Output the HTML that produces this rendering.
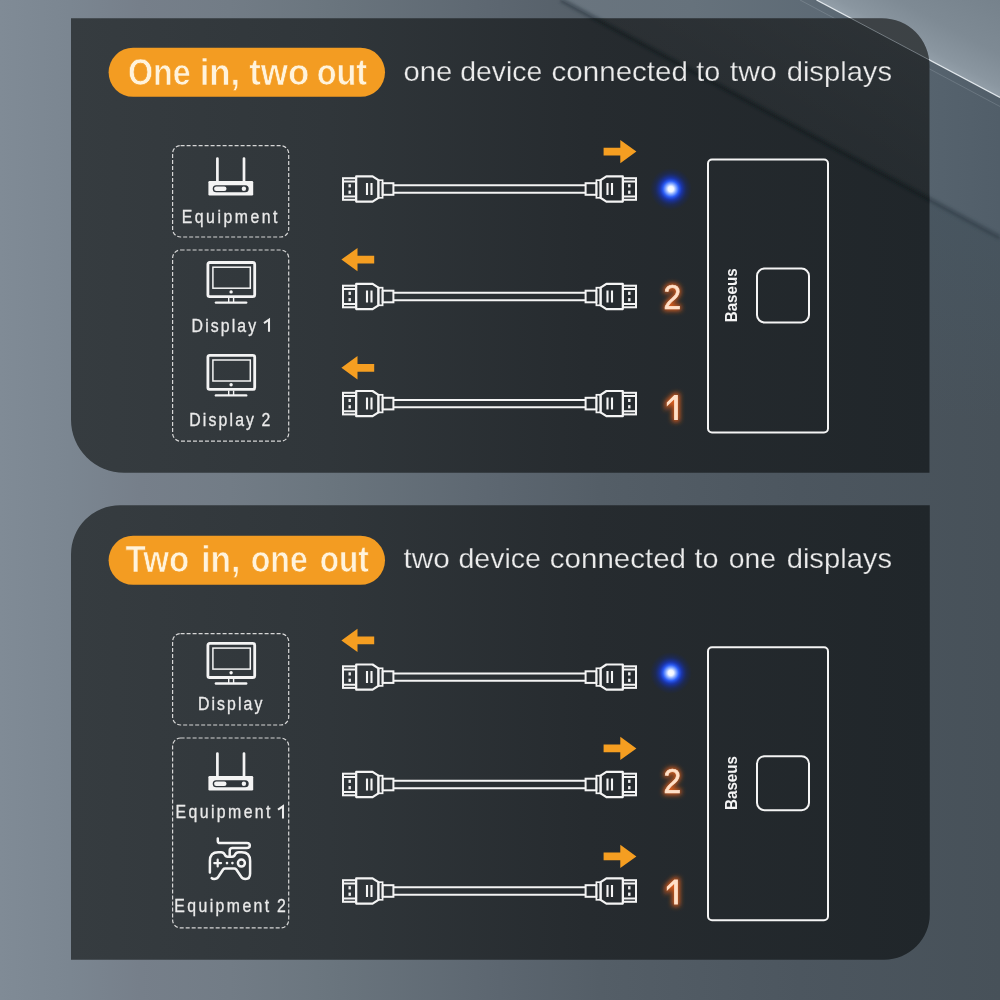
<!DOCTYPE html>
<html><head><meta charset="utf-8"><title>Connection modes</title>
<style>
html,body{margin:0;padding:0;background:#6f7b87;}
body{width:1000px;height:1000px;overflow:hidden;}
svg{display:block;font-family:"Liberation Sans",sans-serif;}
</style></head><body>
<svg width="1000" height="1000" viewBox="0 0 1000 1000">

<defs>
  <linearGradient id="bg" x1="0" y1="0" x2="1" y2="0">
    <stop offset="0" stop-color="#808b96"/>
    <stop offset="0.07" stop-color="#7b8691"/>
    <stop offset="0.14" stop-color="#767f8a"/>
    <stop offset="0.23" stop-color="#727c86"/>
    <stop offset="0.33" stop-color="#6a757e"/>
    <stop offset="0.5" stop-color="#5c6670"/>
    <stop offset="0.6" stop-color="#545e67"/>
    <stop offset="0.8" stop-color="#4c565f"/>
    <stop offset="1" stop-color="#475159"/>
  </linearGradient>
  <linearGradient id="band" gradientUnits="userSpaceOnUse" x1="561" y1="0" x2="1000" y2="0">
    <stop offset="0" stop-color="#6a757f"/>
    <stop offset="0.3" stop-color="#66727c"/>
    <stop offset="0.6" stop-color="#5d6a75"/>
    <stop offset="0.9" stop-color="#54616c"/>
    <stop offset="1" stop-color="#515e69"/>
  </linearGradient>
  <linearGradient id="bandp" gradientUnits="userSpaceOnUse" x1="908" y1="49" x2="851.1" y2="155.4">
    <stop offset="0" stop-color="#fff" stop-opacity="0.05"/>
    <stop offset="1" stop-color="#fff" stop-opacity="0.025"/>
  </linearGradient>
  <linearGradient id="tri" gradientUnits="userSpaceOnUse" x1="908" y1="49" x2="948.6" y2="-26.8">
    <stop offset="0" stop-color="#939fa9"/>
    <stop offset="0.12" stop-color="#8a96a0"/>
    <stop offset="0.45" stop-color="#7e8a94"/>
    <stop offset="1" stop-color="#76828c"/>
  </linearGradient>
  <linearGradient id="below" gradientUnits="userSpaceOnUse" x1="0" y1="130" x2="0" y2="420">
    <stop offset="0" stop-color="#486070" stop-opacity="0.35"/>
    <stop offset="1" stop-color="#486070" stop-opacity="0"/>
  </linearGradient>
  <filter id="noop" filterUnits="userSpaceOnUse" x="0" y="0" width="1000" height="1000"><feOffset dx="0" dy="0"/></filter>
  <filter id="soft" x="-5%" y="-5%" width="110%" height="110%"><feGaussianBlur stdDeviation="1.6"/></filter>
  <linearGradient id="pg" x1="72" y1="0" x2="930" y2="0" gradientUnits="userSpaceOnUse">
    <stop offset="0" stop-color="#363c40"/>
    <stop offset="0.3" stop-color="#30363a"/>
    <stop offset="0.6" stop-color="#262b2f"/>
    <stop offset="1" stop-color="#20262a"/>
  </linearGradient>
  <radialGradient id="led">
    <stop offset="0" stop-color="#ffffff"/>
    <stop offset="0.13" stop-color="#f0f5ff"/>
    <stop offset="0.26" stop-color="#7fa4ff"/>
    <stop offset="0.38" stop-color="#2b5cf5"/>
    <stop offset="0.52" stop-color="#1838c8" stop-opacity="0.8"/>
    <stop offset="0.75" stop-color="#102a98" stop-opacity="0.32"/>
    <stop offset="1" stop-color="#0a2080" stop-opacity="0"/>
  </radialGradient>
  <filter id="glow" x="-60%" y="-40%" width="220%" height="180%">
    <feGaussianBlur stdDeviation="2.5"/>
  </filter>
  <clipPath id="cpTop"><path d="M71 18.2 H882 A47.5 47.5 0 0 1 929.5 65.7 V472.8 H124 A53 53 0 0 1 71 419.8 Z"/></clipPath>
  <clipPath id="cpBot"><path d="M120 505.2 H929.8 V914.2 A45.5 45.5 0 0 1 884.3 959.7 H71 V554.2 A49 49 0 0 1 120 505.2 Z"/></clipPath>

  <!-- HDMI connector, tip at left, origin = tip-left / centre y -->
  <g id="conn" fill="none" stroke="#f4f4f4">
    <rect x="1" y="-10.8" width="13" height="21.6" stroke-width="2"/>
    <path d="M1 -7.6 H13.5 M1 7.6 H13.5" stroke-width="2"/>
    <rect x="6.5" y="-4.8" width="2.4" height="3.2" fill="#f4f4f4" stroke="none"/>
    <rect x="6.5" y="1.6" width="2.4" height="3.2" fill="#f4f4f4" stroke="none"/>
    <path d="M14.2 -12.6 H30.6 L36.4 -8.8 V8.8 L30.6 12.6 H14.2 Z" stroke-width="2.2" stroke-linejoin="round"/>
    <path d="M25 -6 V6 M29.5 -6 V6" stroke-width="2.1"/>
    <rect x="36.4" y="-8.8" width="4.2" height="17.6" stroke-width="1.7"/>
    <rect x="40.6" y="-5.8" width="10.8" height="11.6" stroke-width="2"/>
  </g>
  <g id="cable" fill="none" stroke="#f4f4f4" stroke-width="2">
    <use href="#conn" x="342"/>
    <g transform="translate(979 0) scale(-1 1)"><use href="#conn" x="342"/></g>
    <path d="M394 -3.7 H585 M394 3.7 H585"/>
  </g>
  <!-- arrow pointing right, centred at 0,0 ; 32 wide 23 tall -->
  <path id="arrR" d="M-16.4 -3.9 H0.3 V-11.7 L16.4 0 L0.3 11.7 V3.9 H-16.4 Z" fill="#f59e21"/>
  <!-- monitor, origin at centre x, top y -->
  <g id="mon" fill="none" stroke="#f4f4f4">
    <rect x="-23.4" y="1.3" width="46.8" height="34.1" rx="1.8" stroke-width="2.8"/>
    <rect x="-18.4" y="6" width="37.4" height="21" stroke-width="1.5"/>
    <circle cx="-0.2" cy="30.7" r="1.7" fill="#f4f4f4" stroke="none"/>
    <path d="M-2.6 36.5 V41 M2.3 36.5 V41" stroke-width="1.4"/>
    <path d="M-15.4 41.4 H14.9" stroke-width="2.4" stroke-linecap="round"/>
  </g>
  <!-- router, origin centre x, top of antenna y -->
  <g id="rtr" fill="none" stroke="#f4f4f4">
    <path d="M-13.3 1.7 V25 M13.3 1.7 V25" stroke-width="2.7" stroke-linecap="round"/>
    <rect x="-22.3" y="24.2" width="44.8" height="14.4" rx="1.2" fill="#f4f4f4" stroke="none"/>
    <rect x="-18" y="28.4" width="36" height="7" rx="3.5" fill="#2f353a" stroke="none"/>
    <rect x="-16.6" y="29.7" width="12.4" height="4.4" rx="2.2" fill="#f4f4f4" stroke="none"/>
    <circle cx="13.2" cy="31.9" r="2.2" fill="#f4f4f4" stroke="none"/>
  </g>
  <!-- gamepad, origin centre x (229.7), top y (837.8) -->
  <g id="pad" fill="none" stroke="#f4f4f4" stroke-width="2.5" stroke-linecap="round" stroke-linejoin="round">
    <path d="M-11.9 0.6 V3 Q-11.9 5.1 -9.6 5.1 H17.1 Q20.1 5.1 20.1 7.7 Q20.1 10.2 17.1 10.2 H2.7 Q0 10.2 0 12.5 V17.8"/>
    <path d="M-19.8 34.5 V23 Q-19.8 14.3 -11.5 14.3 H-8.6 Q-6 14.3 -5 16.6 Q-4.2 18.8 -2 18.8 H2.4 Q4.6 18.8 5.4 16.6 Q6.4 14.3 9 14.3 H12 Q20.4 14.3 20.4 23 V35.5 Q20.4 41 15.8 41 Q12.8 41 11.2 38.4 L6.6 31.6 Q5.8 30.6 4.5 30.6 H-4.5 Q-5.8 30.6 -6.6 31.6 L-11 38.4 Q-12.6 41 -15.6 41 Q-17.2 41 -18 40.2"/>
    <path d="M-12 21.8 V28.6 M-15.4 25.2 H-8.6" stroke-width="2.2"/>
    <circle cx="-2.7" cy="25.2" r="1.3" fill="#f4f4f4" stroke="none"/>
    <circle cx="2.7" cy="25.2" r="1.3" fill="#f4f4f4" stroke="none"/>
    <circle cx="11.7" cy="25.2" r="3.5" stroke-width="2.5"/>
  </g>
  <!-- device -->
  <g id="dev" fill="none" stroke="#f4f4f4" stroke-width="2">
    <rect x="708" y="159.5" width="120" height="273" rx="4"/>
    <rect x="757" y="268.5" width="52" height="54" rx="7.5"/>
    <text transform="translate(737.2 322.3) rotate(-90)" font-size="17" font-weight="700" fill="#f4f4f4" stroke="none" textLength="54" lengthAdjust="spacingAndGlyphs">Baseus</text>
  </g>
</defs>

<rect width="1000" height="1000" fill="url(#bg)"/>
<polygon points="561,0 816.5,0 1000,97.5 1000,237.5" fill="url(#band)"/>
<polygon points="816.5,0 1000,0 1000,97.5" fill="url(#tri)"/>
<polygon points="930,199.6 1000,237.5 1000,420 930,420" fill="url(#below)"/>
<path d="M561 0 L1000 237.5" stroke="#2f3b45" stroke-width="5" opacity="0.55" filter="url(#soft)"/>
<path d="M816.5 0 L1000 97.5" stroke="#eef3f7" stroke-width="1.3" opacity="0.9"/>
<path d="M800 0 L1000 106.5" stroke="#cfd8df" stroke-width="1" opacity="0.18"/>
<g clip-path="url(#cpTop)">
<rect x="70" y="18" width="860" height="456" fill="url(#pg)"/>
<polygon points="561,0 816.5,0 1000,97.5 1000,237.5" fill="url(#bandp)"/>
<polygon points="816.5,0 1000,0 1000,97.5" fill="#ffffff" opacity="0.13"/>
<path d="M561 0 L1000 237.5" stroke="#0f1316" stroke-width="4" opacity="0.55" filter="url(#soft)"/>
<path d="M816.5 0 L1000 97.5" stroke="#b4bec6" stroke-width="1" opacity="0.5"/>
</g>
<g clip-path="url(#cpBot)">
<rect x="70" y="505" width="860" height="456" fill="url(#pg)"/>
</g>
<g transform="translate(0 0)" filter="url(#noop)">
<rect x="108.6" y="47.75" width="276.4" height="49.1" rx="24.55" fill="#f39c22"/>
<text x="128.0" y="84.5" font-size="37" font-weight="700" fill="#fff3dc" stroke="#f39c22" stroke-width="0.7" textLength="62.8" lengthAdjust="spacingAndGlyphs">One</text>
<text x="199.7" y="84.5" font-size="37" font-weight="700" fill="#fff3dc" stroke="#f39c22" stroke-width="0.7" textLength="40.6" lengthAdjust="spacingAndGlyphs">in,</text>
<text x="249.2" y="84.5" font-size="37" font-weight="700" fill="#fff3dc" stroke="#f39c22" stroke-width="0.7" textLength="60.1" lengthAdjust="spacingAndGlyphs">two</text>
<text x="316.7" y="84.5" font-size="37" font-weight="700" fill="#fff3dc" stroke="#f39c22" stroke-width="0.7" textLength="50.5" lengthAdjust="spacingAndGlyphs">out</text>
<text x="403.5" y="81.3" font-size="28.5" fill="#ececec" stroke="#272d31" stroke-width="0.25" textLength="48.8" lengthAdjust="spacingAndGlyphs">one</text>
<text x="460.3" y="81.3" font-size="28.5" fill="#ececec" stroke="#272d31" stroke-width="0.25" textLength="82.0" lengthAdjust="spacingAndGlyphs">device</text>
<text x="551.6" y="81.3" font-size="28.5" fill="#ececec" stroke="#272d31" stroke-width="0.25" textLength="136.3" lengthAdjust="spacingAndGlyphs">connected</text>
<text x="696.3" y="81.3" font-size="28.5" fill="#ececec" stroke="#272d31" stroke-width="0.25" textLength="24.0" lengthAdjust="spacingAndGlyphs">to</text>
<text x="729.8" y="81.3" font-size="28.5" fill="#ececec" stroke="#272d31" stroke-width="0.25" textLength="47.0" lengthAdjust="spacingAndGlyphs">two</text>
<text x="786.7" y="81.3" font-size="28.5" fill="#ececec" stroke="#272d31" stroke-width="0.25" textLength="105.3" lengthAdjust="spacingAndGlyphs">displays</text>
<rect x="172.6" y="145.6" width="116.1" height="91.4" rx="8" fill="none" stroke="#d6d6d6" stroke-width="1.2" stroke-dasharray="4 2"/>
<rect x="172.6" y="250" width="116.1" height="191.2" rx="8" fill="none" stroke="#d6d6d6" stroke-width="1.2" stroke-dasharray="4 2"/>
<use href="#rtr" x="230.7" y="156.8"/>
<text transform="translate(181.70 222.5) scale(0.9 1)" font-size="17.6" fill="#eaeaea" stroke="#eaeaea" stroke-width="0.3" textLength="106.4" lengthAdjust="spacing">Equipment</text>
<use href="#mon" x="231.3" y="261.2"/>
<text transform="translate(191.60 331.75) scale(0.9 1)" font-size="17.6" fill="#eaeaea" stroke="#eaeaea" stroke-width="0.3" textLength="71.8" lengthAdjust="spacing">Display</text><path d="M264.00 323.05 L269.00 319.65 V331.75" fill="none" stroke="#eaeaea" stroke-width="2.05" stroke-linejoin="miter"/>
<use href="#mon" x="231.3" y="354"/>
<text transform="translate(189.30 425.9) scale(0.9 1)" font-size="17.6" fill="#eaeaea" stroke="#eaeaea" stroke-width="0.3" textLength="71.9" lengthAdjust="spacing">Display</text><text transform="translate(270.30 425.9) scale(0.9 1)" font-size="17.6" fill="#eaeaea" stroke="#eaeaea" stroke-width="0.3" text-anchor="end">2</text>
<use href="#cable" y="189"/>
<use href="#cable" y="296.5"/>
<use href="#cable" y="403.6"/>
<use href="#arrR" x="620" y="151.6"/>
<g transform="translate(357.8 259.6) scale(-1 1)"><use href="#arrR"/></g>
<g transform="translate(357.8 367.8) scale(-1 1)"><use href="#arrR"/></g>
<circle cx="670.9" cy="189" r="21" fill="url(#led)"/>
<text x="672.2" y="309.0" font-size="35.5" fill="#dd5e1c" text-anchor="middle" filter="url(#glow)" stroke="#dd5e1c" stroke-width="3.5" textLength="17.6" lengthAdjust="spacingAndGlyphs">2</text><text x="672.2" y="309.0" font-size="35.5" fill="#ffe0c8" stroke="#ffe0c8" stroke-width="0.7" text-anchor="middle" textLength="17.6" lengthAdjust="spacingAndGlyphs">2</text>
<path d="M666.8 402.4 L674.3 395.1 H677.9 V420 H674.1 V399.6 L666.8 406.6 Z" fill="#dd5e1c" stroke="#dd5e1c" stroke-width="3.5" filter="url(#glow)"/><path d="M666.8 402.4 L674.3 395.1 H677.9 V420 H674.1 V399.6 L666.8 406.6 Z" fill="#ffe0c8"/>
<use href="#dev" y="0"/>
</g>
<g transform="translate(0 488)" filter="url(#noop)">
<rect x="108.6" y="47.75" width="276.4" height="49.1" rx="24.55" fill="#f39c22"/>
<text x="125.6" y="83.7" font-size="37" font-weight="700" fill="#fff3dc" stroke="#f39c22" stroke-width="0.7" textLength="63.7" lengthAdjust="spacingAndGlyphs">Two</text>
<text x="201.2" y="83.7" font-size="37" font-weight="700" fill="#fff3dc" stroke="#f39c22" stroke-width="0.7" textLength="39.1" lengthAdjust="spacingAndGlyphs">in,</text>
<text x="250.7" y="83.7" font-size="37" font-weight="700" fill="#fff3dc" stroke="#f39c22" stroke-width="0.7" textLength="57.1" lengthAdjust="spacingAndGlyphs">one</text>
<text x="319.7" y="83.7" font-size="37" font-weight="700" fill="#fff3dc" stroke="#f39c22" stroke-width="0.7" textLength="49.1" lengthAdjust="spacingAndGlyphs">out</text>
<text x="403.5" y="80.3" font-size="28.5" fill="#ececec" stroke="#272d31" stroke-width="0.25" textLength="46.3" lengthAdjust="spacingAndGlyphs">two</text>
<text x="458.5" y="80.3" font-size="28.5" fill="#ececec" stroke="#272d31" stroke-width="0.25" textLength="82.5" lengthAdjust="spacingAndGlyphs">device</text>
<text x="549.8" y="80.3" font-size="28.5" fill="#ececec" stroke="#272d31" stroke-width="0.25" textLength="136.2" lengthAdjust="spacingAndGlyphs">connected</text>
<text x="694.5" y="80.3" font-size="28.5" fill="#ececec" stroke="#272d31" stroke-width="0.25" textLength="24.0" lengthAdjust="spacingAndGlyphs">to</text>
<text x="728.7" y="80.3" font-size="28.5" fill="#ececec" stroke="#272d31" stroke-width="0.25" textLength="47.3" lengthAdjust="spacingAndGlyphs">one</text>
<text x="786.7" y="80.3" font-size="28.5" fill="#ececec" stroke="#272d31" stroke-width="0.25" textLength="105.3" lengthAdjust="spacingAndGlyphs">displays</text>
<rect x="172.6" y="145.6" width="116.1" height="91.4" rx="8" fill="none" stroke="#d6d6d6" stroke-width="1.2" stroke-dasharray="4 2"/>
<rect x="172.6" y="250" width="116.1" height="189.9" rx="8" fill="none" stroke="#d6d6d6" stroke-width="1.2" stroke-dasharray="4 2"/>
<use href="#mon" x="231.3" y="154.1"/>
<text transform="translate(197.90 222.4) scale(0.9 1)" font-size="17.6" fill="#eaeaea" stroke="#eaeaea" stroke-width="0.3" textLength="71.6" lengthAdjust="spacing">Display</text>
<use href="#rtr" x="230.7" y="263.9"/>
<text transform="translate(175.60 330.4) scale(0.9 1)" font-size="17.6" fill="#eaeaea" stroke="#eaeaea" stroke-width="0.3" textLength="105.4" lengthAdjust="spacing">Equipment</text><path d="M278.00 321.70 L283.00 318.30 V330.4" fill="none" stroke="#eaeaea" stroke-width="2.05" stroke-linejoin="miter"/>
<use href="#pad" x="229.7" y="349.9"/>
<text transform="translate(174.30 424.0) scale(0.9 1)" font-size="17.6" fill="#eaeaea" stroke="#eaeaea" stroke-width="0.3" textLength="105.5" lengthAdjust="spacing">Equipment</text><text transform="translate(285.90 424.0) scale(0.9 1)" font-size="17.6" fill="#eaeaea" stroke="#eaeaea" stroke-width="0.3" text-anchor="end">2</text>
<use href="#cable" y="189.1"/>
<use href="#cable" y="296.5"/>
<use href="#cable" y="403.0"/>
<g transform="translate(357.8 152.4) scale(-1 1)"><use href="#arrR"/></g>
<use href="#arrR" x="620" y="260.4"/>
<use href="#arrR" x="620" y="368.4"/>
<circle cx="670.9" cy="184.9" r="21" fill="url(#led)"/>
<text x="672.2" y="305.2" font-size="35.5" fill="#dd5e1c" text-anchor="middle" filter="url(#glow)" stroke="#dd5e1c" stroke-width="3.5" textLength="17.6" lengthAdjust="spacingAndGlyphs">2</text><text x="672.2" y="305.2" font-size="35.5" fill="#ffe0c8" stroke="#ffe0c8" stroke-width="0.7" text-anchor="middle" textLength="17.6" lengthAdjust="spacingAndGlyphs">2</text>
<path d="M666.8 398.79999999999995 L674.3 391.5 H677.9 V416.4 H674.1 V396.0 L666.8 403.0 Z" fill="#dd5e1c" stroke="#dd5e1c" stroke-width="3.5" filter="url(#glow)"/><path d="M666.8 398.79999999999995 L674.3 391.5 H677.9 V416.4 H674.1 V396.0 L666.8 403.0 Z" fill="#ffe0c8"/>
<use href="#dev" y="-0.3"/>
</g>
</svg>
</body></html>
